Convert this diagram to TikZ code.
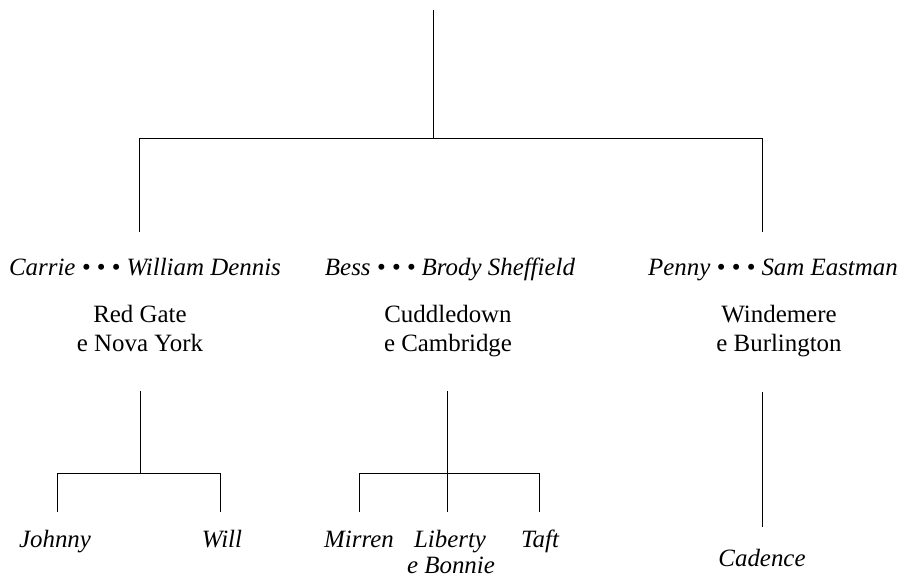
\documentclass[tikz,border=0pt]{standalone}
\usepackage{fontspec}
\setmainfont{Liberation Serif}
\begin{document}
\begin{tikzpicture}[x=1bp,y=-1bp, line width=0.8bp,
  pname/.style={font=\fontsize{25}{30}\selectfont\itshape, anchor=base, inner sep=0pt},
  ptext/.style={font=\fontsize{25}{30}\selectfont, anchor=base, inner sep=0pt}]
\useasboundingbox (0,0) rectangle (902,579);
% top level
\coordinate (top) at (433,10);
\coordinate (j) at (433,138);
\coordinate (hl) at (139,138);
\coordinate (hr) at (762,138);
\coordinate (dl) at (139,232);
\coordinate (dr) at (762,232);
\draw (top) -- (j);
\draw (dl) -- (hl) -- (hr) -- (dr);
% couples
\node[pname] (c1) at (145,275) {Carrie • • • William Dennis};
\node[pname] (c2) at (450,275) {Bess • • • Brody Sheffield};
\node[pname] (c3) at (773,275) {Penny • • • Sam Eastman};
\node[ptext] (p1a) at (140,322) {Red Gate};
\node[ptext] (p1b) at (140,351) {e Nova York};
\node[ptext] (p2a) at (448,322) {Cuddledown};
\node[ptext] (p2b) at (448,351) {e Cambridge};
\node[ptext] (p3a) at (779,322) {Windemere};
\node[ptext] (p3b) at (779,351) {e Burlington};
% family 1
\coordinate (a1) at (140,391);
\coordinate (a1j) at (140,473);
\coordinate (a1l) at (57,473);
\coordinate (a1r) at (220,473);
\coordinate (a1ld) at (57,512);
\coordinate (a1rd) at (220,512);
\draw (a1) -- (a1j);
\draw (a1ld) -- (a1l) -- (a1r) -- (a1rd);
\node[pname] (k1) at (55,547) {Johnny};
\node[pname] (k2) at (222,547) {Will};
% family 2
\coordinate (a2) at (447,391);
\coordinate (a2d) at (447,512);
\coordinate (a2l) at (359,473);
\coordinate (a2r) at (539,473);
\coordinate (a2ld) at (359,512);
\coordinate (a2rd) at (539,512);
\draw (a2) -- (a2d);
\draw (a2ld) -- (a2l) -- (a2r) -- (a2rd);
\node[pname] (k3) at (359,547) {Mirren};
\node[pname] (k4) at (450,547) {Liberty};
\node[pname] (k4b) at (451,573) {e Bonnie};
\node[pname] (k5) at (540,547) {Taft};
% family 3
\coordinate (a3) at (762,392);
\coordinate (a3d) at (762,527);
\draw (a3) -- (a3d);
\node[pname] (k6) at (762,566) {Cadence};
\end{tikzpicture}
\end{document}
